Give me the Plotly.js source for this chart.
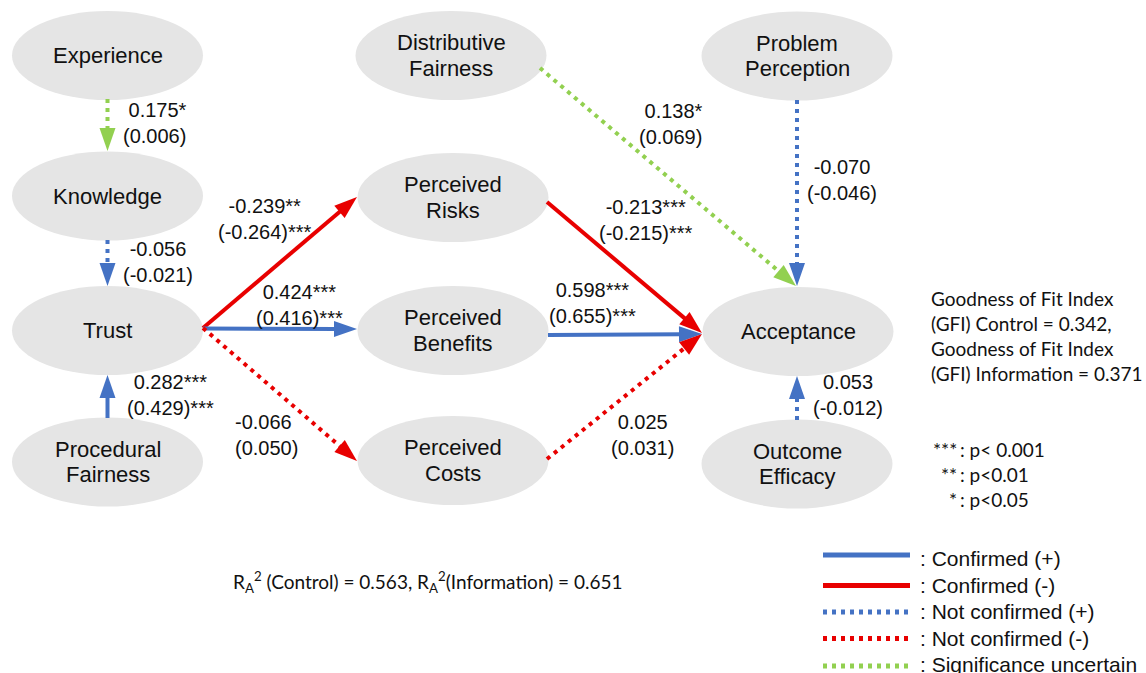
<!DOCTYPE html>
<html><head><meta charset="utf-8">
<script src="https://cdn.plot.ly/plotly-3.0.1.min.js"></script>
<style>html,body{margin:0;padding:0;background:#fff}#chart{width:1146px;height:673px}</style>
</head><body><div id="chart"></div>
<script>
// ---------------- DATA ----------------
const nodeNames = ['Experience','Knowledge','Trust','Procedural<br>Fairness','Distributive<br>Fairness',
  'Perceived<br>Risks','Perceived<br>Benefits','Perceived<br>Costs','Problem<br>Perception','Acceptance','Outcome<br>Efficacy'];
const pathFrom = ['Experience','Knowledge','Procedural<br>Fairness','Trust','Trust','Trust',
  'Distributive<br>Fairness','Perceived<br>Risks','Perceived<br>Benefits','Perceived<br>Costs','Problem<br>Perception','Outcome<br>Efficacy'];
const pathTo = ['Knowledge','Trust','Trust','Perceived<br>Risks','Perceived<br>Benefits','Perceived<br>Costs',
  'Acceptance','Acceptance','Acceptance','Acceptance','Acceptance','Acceptance'];
const coefControl     = [0.175,-0.056,0.282,-0.239,0.424,-0.066,0.138,-0.213,0.598,0.025,-0.070,0.053];
const starsControl    = ['*','','***','**','***','','*','***','***','','',''];
const coefInformation = [0.006,-0.021,0.429,-0.264,0.416,0.050,0.069,-0.215,0.655,0.031,-0.046,-0.012];
const starsInformation= ['','','***','***','***','','','***','***','','',''];
const pathStatus = ['uncertain','notplus','plus','minus','plus','notminus','uncertain','minus','plus','notminus','notplus','notplus'];
const legendStatus = ['plus','minus','notplus','notminus','uncertain'];
const legendLabels = [': Confirmed (+)',': Confirmed (-)',': Not confirmed (+)',': Not confirmed (-)',': Significance uncertain'];
const gfiText = ['Goodness of Fit Index','(GFI) Control = 0.342,','Goodness of Fit Index','(GFI) Information = 0.371'];
const pStars = ['***','**','*'];
const pText = [': p< 0.001',': p<0.01',': p<0.05'];
const r2Text = 'R<sub>A</sub><sup>2</sup> (Control) = 0.563, R<sub>A</sub><sup>2</sup>(Information) = 0.651';

// ---------------- GEOMETRY / STYLE ----------------
const nodePos = {
  'Experience':[107.5,55.5], 'Knowledge':[107.5,196], 'Trust':[107.5,330.5], 'Procedural<br>Fairness':[107.5,462],
  'Distributive<br>Fairness':[451,55.5], 'Perceived<br>Risks':[453,197.5], 'Perceived<br>Benefits':[453,330.5], 'Perceived<br>Costs':[453,460.5],
  'Problem<br>Perception':[797,56], 'Acceptance':[798,331.5], 'Outcome<br>Efficacy':[797,464]
};
const RX = 95.5, RY = 44.5;
// start and end (tip) points of each path
const pathPts = [
  [[107.5,99],[107.5,151]],
  [[107.5,240],[107.5,286]],
  [[107.5,418],[107.5,375]],
  [[203,328],[357,197]],
  [[203,328.5],[357,329]],
  [[203,328],[357,461]],
  [[540,68],[796,286]],
  [[547,202],[702,333]],
  [[548,335],[702,334]],
  [[547,459],[702,334]],
  [[797,100],[797,286]],
  [[797,420],[797,376]]
];
// label anchor [x, y, xanchor]
const labelPos = [
  [189,123,'right'],[158,262,'center'],[170,395,'center'],[265,219,'center'],[299,305,'center'],[233,435,'left'],
  [705,124,'right'],[646,220,'center'],[592,303,'center'],[642,435,'center'],[842,180,'center'],[848,395,'center']
];
const BLUE='#4472C4', RED='#E80000', GREEN='#92D050';
const styles = {
  plus:{color:BLUE,dash:'solid'}, minus:{color:RED,dash:'solid'},
  notplus:{color:BLUE,dash:'4px,5px'}, notminus:{color:RED,dash:'4px,5px'}, uncertain:{color:GREEN,dash:'4px,5px'}
};
const FONT = 'Liberation Sans, Arial, Helvetica, sans-serif';
const CFONT = 'Lato, Carlito, Calibri, sans-serif';

const traces = [], shapes = [], annotations = [];

// nodes
nodeNames.forEach(n => {
  const [cx,cy] = nodePos[n];
  shapes.push({type:'circle',xref:'x',yref:'y',x0:cx-RX,x1:cx+RX,y0:cy-RY,y1:cy+RY,
    fillcolor:'#e5e5e5',line:{width:0},layer:'below'});
  const lines = n.split('<br>');
  lines.forEach((t,i) => {
    const dy = (i - (lines.length-1)/2) * 25.5;
    annotations.push({x:cx,y:cy+dy,xref:'x',yref:'y',text:t,showarrow:false,
      font:{family:FONT,size:22,color:'#111'},xanchor:'center',yanchor:'middle'});
  });
});

// paths
const AL = 23, AW = 8;
pathFrom.forEach((f,i) => {
  const st = styles[pathStatus[i]];
  const [p0,p1] = pathPts[i];
  const dx = p1[0]-p0[0], dy = p1[1]-p0[1];
  const len = Math.hypot(dx,dy), ux = dx/len, uy = dy/len;
  const bx = p1[0]-ux*AL, by = p1[1]-uy*AL;
  const ex = p1[0]-ux*AL*0.85, ey = p1[1]-uy*AL*0.85;
  traces.push({type:'scatter',mode:'lines',x:[p0[0],ex],y:[p0[1],ey],
    line:{color:st.color,width:4,dash:st.dash},hoverinfo:'skip',showlegend:false});
  const px = -uy, py = ux;
  shapes.push({type:'path',xref:'x',yref:'y',
    path:`M ${p1[0]} ${p1[1]} L ${bx+px*AW} ${by+py*AW} L ${bx-px*AW} ${by-py*AW} Z`,
    fillcolor:st.color,line:{width:0}});
  const [lx,ly,xa] = labelPos[i];
  const t = coefControl[i].toFixed(3)+starsControl[i]+'<br>('+coefInformation[i].toFixed(3)+')'+starsInformation[i];
  annotations.push({x:lx,y:ly,xref:'x',yref:'y',text:t,showarrow:false,align:xa,xanchor:xa,yanchor:'middle',
    font:{family:FONT,size:20,color:'#111'}});
});

// legend
const legY = [555,585.5,612,638.5,666];
const legTextY = [558,585,611,638,664];
legendStatus.forEach((s,i) => {
  const st = styles[s];
  traces.push({type:'scatter',mode:'lines',x:[823,910],y:[legY[i],legY[i]],
    line:{color:st.color,width:5,dash:st.dash},hoverinfo:'skip',showlegend:false});
  annotations.push({x:918,y:legTextY[i],xref:'x',yref:'y',text:legendLabels[i],showarrow:false,
    xanchor:'left',yanchor:'middle',font:{family:FONT,size:21,color:'#111'}});
});

// notes
gfiText.forEach((t,i) => annotations.push({x:929,y:298+i*25,xref:'x',yref:'y',text:t,showarrow:false,
  xanchor:'left',yanchor:'middle',font:{family:CFONT,size:19,color:'#111'}}));
pStars.forEach((t,i) => {
  annotations.push({x:959,y:449+i*25,xref:'x',yref:'y',text:t,showarrow:false,
    xanchor:'right',yanchor:'middle',font:{family:CFONT,size:19,color:'#111'}});
  annotations.push({x:958,y:449+i*25,xref:'x',yref:'y',text:pText[i],showarrow:false,
    xanchor:'left',yanchor:'middle',font:{family:CFONT,size:19,color:'#111'}});
});
annotations.push({x:231,y:582,xref:'x',yref:'y',text:r2Text,showarrow:false,xanchor:'left',yanchor:'middle',
  font:{family:CFONT,size:19,color:'#111'}});

const layout = {
  width:1146,height:673,margin:{l:0,r:0,t:0,b:0},
  paper_bgcolor:'#fff',plot_bgcolor:'#fff',showlegend:false,
  xaxis:{range:[0,1146],visible:false,fixedrange:true},
  yaxis:{range:[673,0],visible:false,fixedrange:true},
  shapes,annotations
};
Plotly.newPlot('chart',traces,layout,{displayModeBar:false,staticPlot:true});
</script></body></html>
